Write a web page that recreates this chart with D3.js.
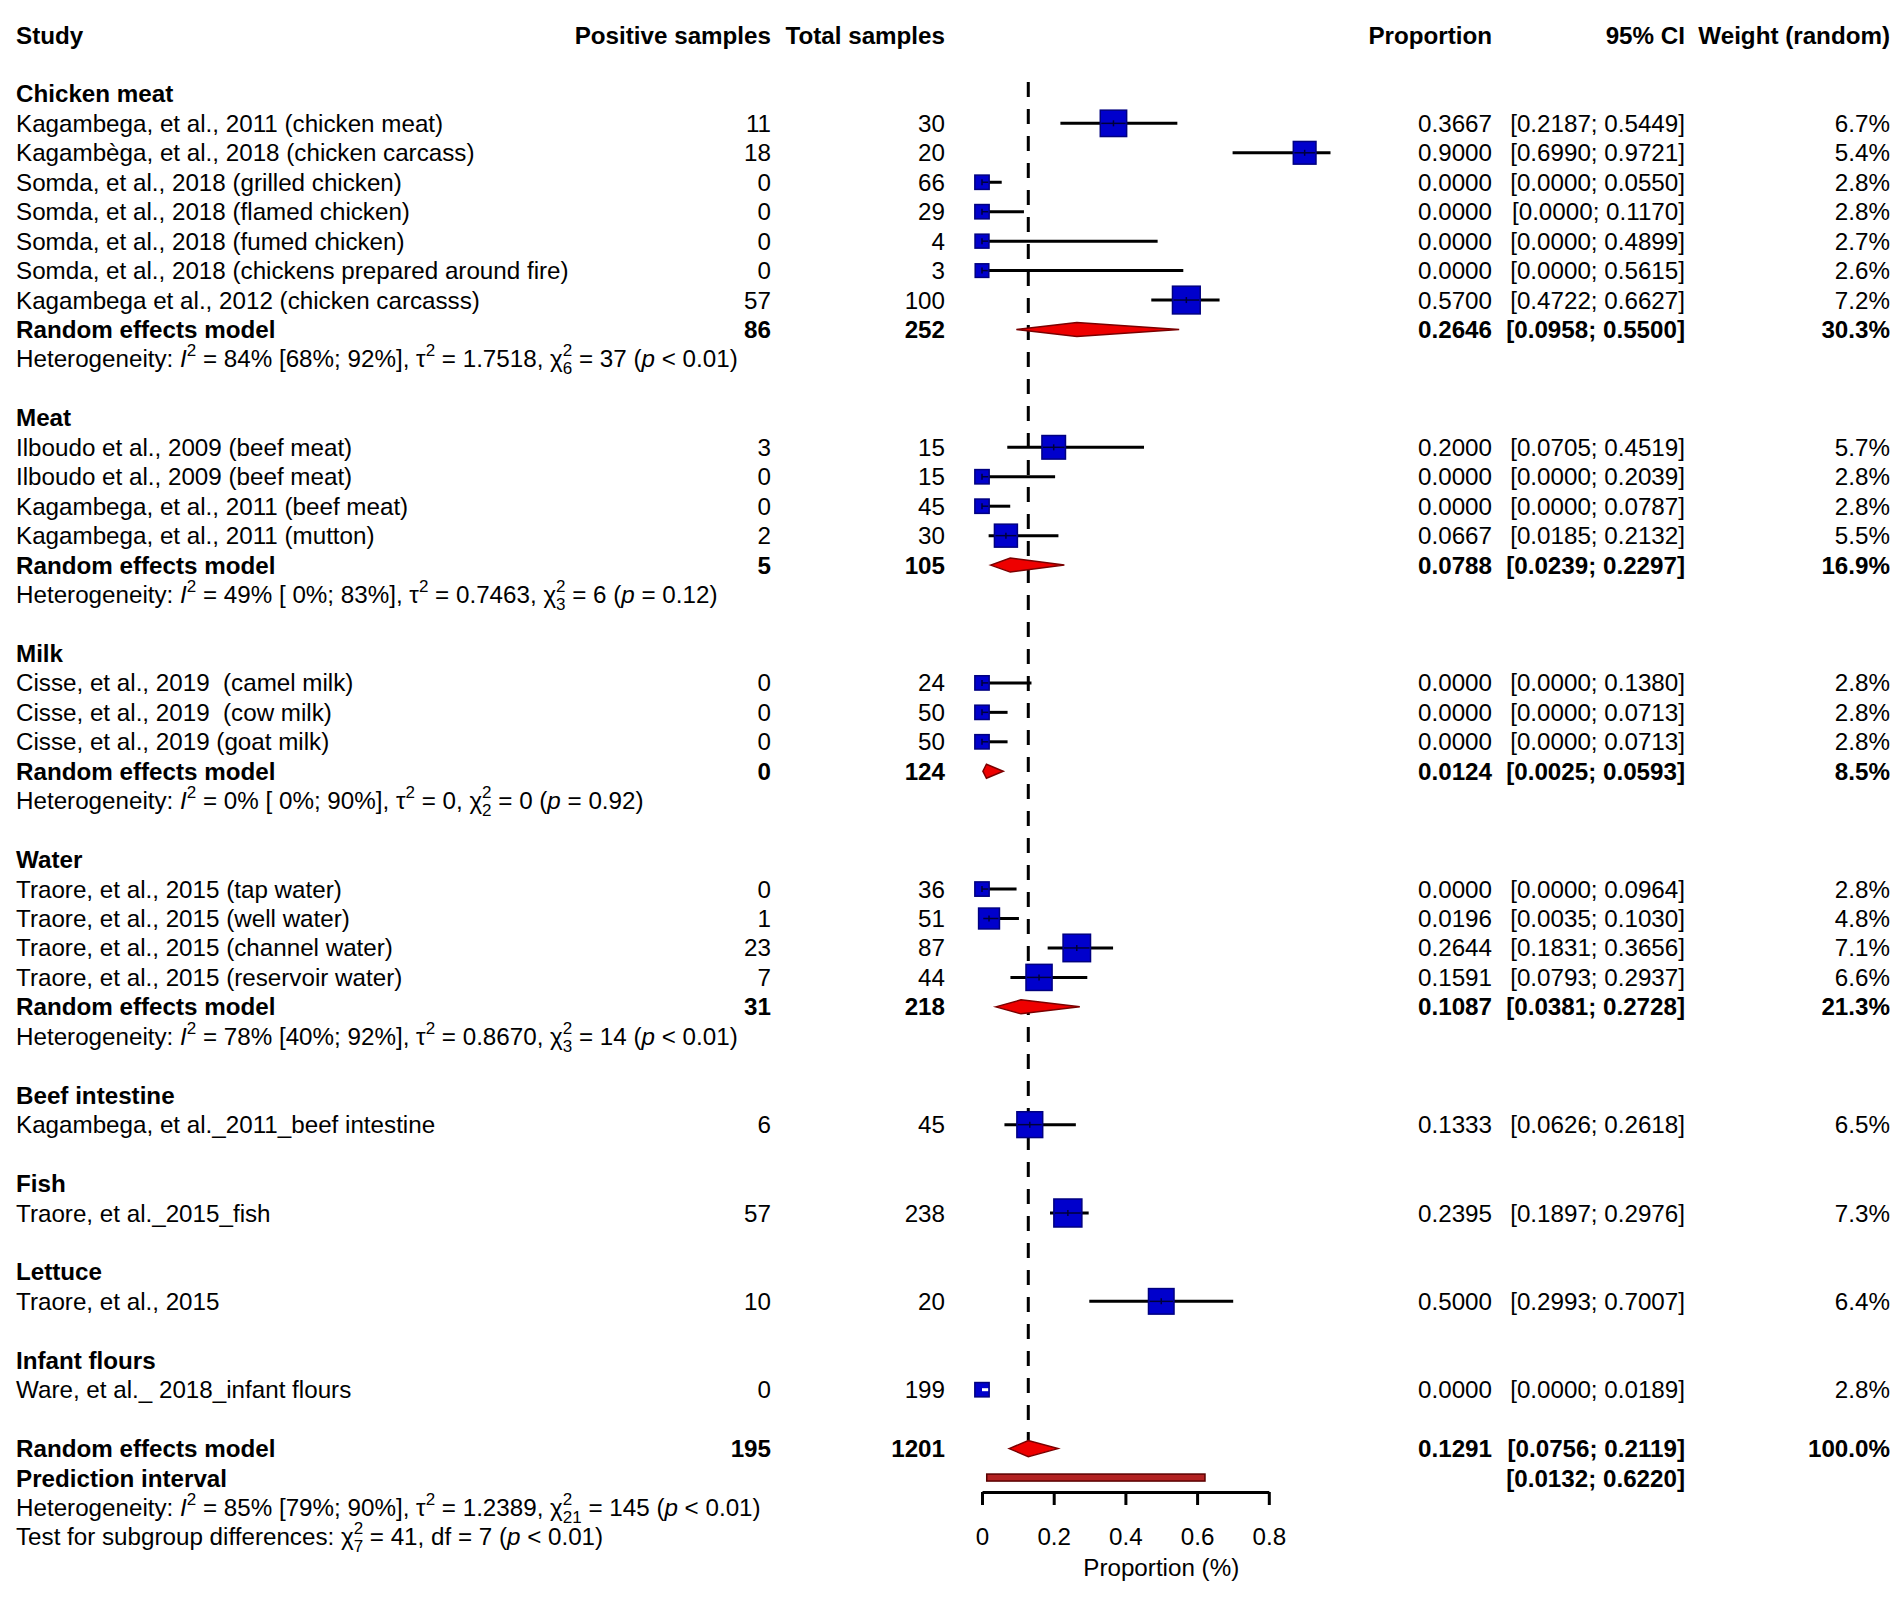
<!DOCTYPE html>
<html>
<head>
<meta charset="utf-8">
<script src="https://cdn.jsdelivr.net/npm/d3@7"></script>
<style>
  body { margin: 0; background: #fff; }
  text { font-family: 'Liberation Sans', Arial, sans-serif; font-size: 24.2px; fill: #000; white-space: pre; }
  .b { font-weight: bold; }
</style>
</head>
<body>
<div id="chart"></div>
<script>
// study level data
const groupNames = ['Chicken meat', 'Meat', 'Milk', 'Water', 'Beef intestine', 'Fish', 'Lettuce', 'Infant flours']
const studyLabels = [
  'Kagambega, et al., 2011 (chicken meat)', 'Kagambèga, et al., 2018 (chicken carcass)',
  'Somda, et al., 2018 (grilled chicken)', 'Somda, et al., 2018 (flamed chicken)',
  'Somda, et al., 2018 (fumed chicken)', 'Somda, et al., 2018 (chickens prepared around fire)',
  'Kagambega et al., 2012 (chicken carcasss)',
  'Ilboudo et al., 2009 (beef meat)', 'Ilboudo et al., 2009 (beef meat)',
  'Kagambega, et al., 2011 (beef meat)', 'Kagambega, et al., 2011 (mutton)',
  'Cisse, et al., 2019  (camel milk)', 'Cisse, et al., 2019  (cow milk)', 'Cisse, et al., 2019 (goat milk)',
  'Traore, et al., 2015 (tap water)', 'Traore, et al., 2015 (well water)',
  'Traore, et al., 2015 (channel water)', 'Traore, et al., 2015 (reservoir water)',
  'Kagambega, et al._2011_beef intestine', 'Traore, et al._2015_fish', 'Traore, et al., 2015',
  'Ware, et al._ 2018_infant flours'
]
const studyGroup = [0, 0, 0, 0, 0, 0, 0, 1, 1, 1, 1, 2, 2, 2, 3, 3, 3, 3, 4, 5, 6, 7]
const events = [11, 18, 0, 0, 0, 0, 57, 3, 0, 0, 2, 0, 0, 0, 0, 1, 23, 7, 6, 57, 10, 0]
const totals = [30, 20, 66, 29, 4, 3, 100, 15, 15, 45, 30, 24, 50, 50, 36, 51, 87, 44, 45, 238, 20, 199]
const props = [0.3667, 0.9, 0, 0, 0, 0, 0.57, 0.2, 0, 0, 0.0667, 0, 0, 0, 0, 0.0196, 0.2644, 0.1591, 0.1333, 0.2395, 0.5, 0]
const lowers = [0.2187, 0.699, 0, 0, 0, 0, 0.4722, 0.0705, 0, 0, 0.0185, 0, 0, 0, 0, 0.0035, 0.1831, 0.0793, 0.0626, 0.1897, 0.2993, 0]
const uppers = [0.5449, 0.9721, 0.055, 0.117, 0.4899, 0.5615, 0.6627, 0.4519, 0.2039, 0.0787, 0.2132, 0.138, 0.0713, 0.0713, 0.0964, 0.103, 0.3656, 0.2937, 0.2618, 0.2976, 0.7007, 0.0189]
const weights = [6.7, 5.4, 2.8, 2.8, 2.7, 2.6, 7.2, 5.7, 2.8, 2.8, 5.5, 2.8, 2.8, 2.8, 2.8, 4.8, 7.1, 6.6, 6.5, 7.3, 6.4, 2.8]

// subgroup pooled results (only groups with more than one study)
const pooledEvents = [86, 5, 0, 31]
const pooledTotals = [252, 105, 124, 218]
const pooledProps = [0.2646, 0.0788, 0.0124, 0.1087]
const pooledLowers = [0.0958, 0.0239, 0.0025, 0.0381]
const pooledUppers = [0.55, 0.2297, 0.0593, 0.2728]
const pooledWeights = [30.3, 16.9, 8.5, 21.3]
const hetI2 = ['84% [68%; 92%]', '49% [ 0%; 83%]', '0% [ 0%; 90%]', '78% [40%; 92%]']
const hetTau2 = ['1.7518', '0.7463', '0', '0.8670']
const hetDf = ['6', '3', '2', '3']
const hetQ = ['37', '6', '0', '14']
const hetP = ['< 0.01', '= 0.12', '= 0.92', '< 0.01']

// overall
const overall = {events: 195, total: 1201, prop: 0.1291, lower: 0.0756, upper: 0.2119, weight: 100}
const predInterval = [0.0132, 0.622]
const overallHet = {i2: '85% [79%; 90%]', tau2: '1.2389', df: '21', q: '145', p: '< 0.01'}
const subgroupTest = {df: '7', q: '41', p: '< 0.01'}
const axisTicks = [0, 0.2, 0.4, 0.6, 0.8]

const W = 1902, H = 1606
const svg = d3.select('#chart').append('svg').attr('width', W).attr('height', H)

const y = d3.scaleLinear().domain([0, 51]).range([35, 35 + 51 * 29.45])
const x = d3.scaleLinear().domain([0, 1]).range([982, 1340.5])
const sq = d3.scalePow().exponent(0.7).domain([0, 7.3]).range([0, 28])
const f4 = d3.format('.4f')
const ci = (l, u) => '[' + f4(l) + '; ' + f4(u) + ']'

const col = {label: 16, pos: 771, tot: 945, prop: 1492, ci: 1685, w: 1890}
const base = 8.5 // baseline offset from row centre

const txt = (xx, row, s, anchor, bold) =>
  svg.append('text').attr('x', xx).attr('y', y(row) + base)
    .attr('text-anchor', anchor || 'start').classed('b', !!bold).text(s)

// rich text with italics and sub/superscripts
const rich = (xx, row, parts) => {
  const t = svg.append('text').attr('x', xx).attr('y', y(row) + base)
  let cur = 0
  parts.forEach(p => {
    if (typeof p === 'string') {
      t.append('tspan').attr('dy', -cur).text(p); cur = 0
    } else if (p[0] === 'i') {
      t.append('tspan').attr('dy', -cur).style('font-style', 'italic').text(p[1]); cur = 0
    } else if (p[0] === 'sup') {
      t.append('tspan').attr('dy', -11 - cur).style('font-size', '17px').text(p[1]); cur = -11
    } else if (p[0] === 'supsub') {
      const a = t.append('tspan').attr('dy', -11 - cur).style('font-size', '17px').text(p[1])
      const la = a.node().getComputedTextLength()
      const b = t.append('tspan').attr('dx', -la).attr('dy', 18).style('font-size', '17px').text(p[2])
      const lb = b.node().getComputedTextLength()
      cur = 7
      if (la > lb) t.append('tspan').attr('dx', la - lb).text('')
    }
  })
}

// header
txt(col.label, 0, 'Study', 'start', true)
txt(col.pos, 0, 'Positive samples', 'end', true)
txt(col.tot, 0, 'Total samples', 'end', true)
txt(col.prop, 0, 'Proportion', 'end', true)
txt(col.ci, 0, '95% CI', 'end', true)
txt(col.w, 0, 'Weight (random)', 'end', true)

// lay out rows
const studyRows = [], pooledRows = []
let r = 2
groupNames.forEach((g, gi) => {
  txt(col.label, r, g, 'start', true)
  r++
  studyGroup.forEach((sg, si) => { if (sg === gi) { studyRows[si] = r; r++ } })
  if (gi < pooledProps.length) {
    pooledRows[gi] = r
    r += 2
  }
  r++
})
const overallRow = r

// dashed line at overall estimate
svg.append('line')
  .attr('x1', x(overall.prop)).attr('x2', x(overall.prop))
  .attr('y1', y(1.6)).attr('y2', y(overallRow) - 8)
  .attr('stroke', '#000').attr('stroke-width', 3).attr('stroke-dasharray', '15,12')

// studies
studyLabels.forEach((lab, i) => {
  const row = studyRows[i]
  txt(col.label, row, lab)
  txt(col.pos, row, events[i], 'end')
  txt(col.tot, row, totals[i], 'end')
  txt(col.prop, row, f4(props[i]), 'end')
  txt(col.ci, row, ci(lowers[i], uppers[i]), 'end')
  txt(col.w, row, weights[i].toFixed(1) + '%', 'end')

  const cy = y(row), cx = x(props[i]), s = sq(weights[i])
  const inside = x(lowers[i]) >= cx - s / 2 && x(uppers[i]) <= cx + s / 2
  if (!inside) {
    svg.append('line').attr('x1', x(lowers[i])).attr('x2', x(uppers[i]))
      .attr('y1', cy).attr('y2', cy).attr('stroke', '#000').attr('stroke-width', 3)
  }
  svg.append('rect').attr('x', cx - s / 2).attr('y', cy - s / 2).attr('width', s).attr('height', s)
    .attr('fill', '#0000cc').attr('stroke', '#000080').attr('stroke-width', 1.5)
  const l1 = Math.max(x(lowers[i]), cx - s / 2 + 1), l2 = Math.min(x(uppers[i]), cx + s / 2 - 1)
  svg.append('line').attr('x1', l1).attr('x2', l2).attr('y1', cy).attr('y2', cy)
    .attr('stroke', inside ? '#fff' : '#00003a').attr('stroke-width', inside ? 3 : 1.5)
  if (!inside) {
    svg.append('line').attr('x1', cx).attr('x2', cx).attr('y1', cy - 3).attr('y2', cy + 3)
      .attr('stroke', '#00003a').attr('stroke-width', 1.5)
  }
})

const diamond = (row, est, lo, hi, h) => {
  const cy = y(row)
  svg.append('polygon')
    .attr('points', [[x(lo), cy], [x(est), cy - h], [x(hi), cy], [x(est), cy + h]].join(' '))
    .attr('fill', '#ee0000').attr('stroke', '#7a0000').attr('stroke-width', 1.5)
}

// pooled subgroups
pooledProps.forEach((p, gi) => {
  const row = pooledRows[gi]
  txt(col.label, row, 'Random effects model', 'start', true)
  txt(col.pos, row, pooledEvents[gi], 'end', true)
  txt(col.tot, row, pooledTotals[gi], 'end', true)
  txt(col.prop, row, f4(p), 'end', true)
  txt(col.ci, row, ci(pooledLowers[gi], pooledUppers[gi]), 'end', true)
  txt(col.w, row, pooledWeights[gi].toFixed(1) + '%', 'end', true)
  diamond(row, p, pooledLowers[gi], pooledUppers[gi], 7)
  rich(col.label, row + 1, ['Heterogeneity: ', ['i', 'I'], ['sup', '2'], ' = ' + hetI2[gi] + ', \u03c4', ['sup', '2'],
    ' = ' + hetTau2[gi] + ', \u03c7', ['supsub', '2', hetDf[gi]], ' = ' + hetQ[gi] + ' (', ['i', 'p'], ' ' + hetP[gi] + ')'])
})

// overall
txt(col.label, overallRow, 'Random effects model', 'start', true)
txt(col.pos, overallRow, overall.events, 'end', true)
txt(col.tot, overallRow, overall.total, 'end', true)
txt(col.prop, overallRow, f4(overall.prop), 'end', true)
txt(col.ci, overallRow, ci(overall.lower, overall.upper), 'end', true)
txt(col.w, overallRow, overall.weight.toFixed(1) + '%', 'end', true)
diamond(overallRow, overall.prop, overall.lower, overall.upper, 8)

txt(col.label, overallRow + 1, 'Prediction interval', 'start', true)
txt(col.ci, overallRow + 1, ci(predInterval[0], predInterval[1]), 'end', true)
svg.append('rect').attr('x', x(predInterval[0])).attr('y', y(overallRow + 1) - 4)
  .attr('width', x(predInterval[1]) - x(predInterval[0])).attr('height', 7)
  .attr('fill', '#b22222').attr('stroke', '#5a0000').attr('stroke-width', 1.5)

rich(col.label, overallRow + 2, ['Heterogeneity: ', ['i', 'I'], ['sup', '2'], ' = ' + overallHet.i2 + ', \u03c4', ['sup', '2'],
  ' = ' + overallHet.tau2 + ', \u03c7', ['supsub', '2', overallHet.df], ' = ' + overallHet.q + ' (', ['i', 'p'], ' ' + overallHet.p + ')'])
rich(col.label, overallRow + 3, ['Test for subgroup differences: \u03c7', ['supsub', '2', subgroupTest.df],
  ' = ' + subgroupTest.q + ', df = ' + subgroupTest.df + ' (', ['i', 'p'], ' ' + subgroupTest.p + ')'])

// axis
const xa = d3.scaleLinear().domain([0, 0.8]).range([x(0), x(0.8)])
const axisY = 1492
const ax = svg.append('g').attr('transform', `translate(0,${axisY})`)
  .call(d3.axisBottom(xa).tickValues(axisTicks).tickSize(13).tickSizeOuter(0).tickPadding(23)
    .tickFormat(d3.format('~g')))
ax.select('.domain').attr('stroke', '#000').attr('stroke-width', 3)
ax.selectAll('.tick line').attr('stroke', '#000').attr('stroke-width', 3)
ax.selectAll('.tick text').attr('fill', '#000').style('font-size', '24.2px')
  .style('font-family', "'Liberation Sans', Arial, sans-serif")
ax.attr('font-family', null).attr('font-size', null)

svg.append('text').attr('x', x(0.5)).attr('y', 1576).attr('text-anchor', 'middle').text('Proportion (%)')
</script>
</body>
</html>
